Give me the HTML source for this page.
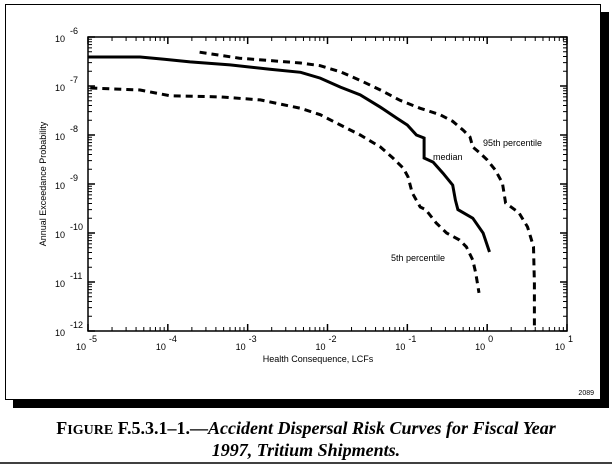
<!DOCTYPE html>
<html><head><meta charset="utf-8"><style>
html,body{margin:0;padding:0;background:#fff;}
svg{display:block;font-family:"Liberation Sans",Arial,sans-serif;}
</style></head><body>
<svg id="chart" width="612" height="465" viewBox="0 0 612 465" xmlns="http://www.w3.org/2000/svg">
<rect x="13" y="12" width="596" height="396" fill="#000"/>
<rect x="5.5" y="4.5" width="595" height="395" fill="#fff" stroke="#000" stroke-width="1"/>
<g id="axes"></g>
<g id="series"></g>
<text x="483" y="146" font-size="9">95th percentile</text>
<text x="433" y="160" font-size="9">median</text>
<text x="391" y="261" font-size="9">5th percentile</text>
<text x="318" y="362" font-size="9" text-anchor="middle">Health Consequence, LCFs</text>
<text transform="translate(46,184) rotate(-90)" font-size="9" text-anchor="middle">Annual Exceedance Probability</text>
<text x="594" y="395" font-size="7" text-anchor="end">2089</text>
<text x="306" y="434" font-size="18" font-weight="bold" text-anchor="middle" font-family="Liberation Serif, serif"><tspan>F</tspan><tspan font-size="14">IGURE</tspan><tspan> F.5.3.1–1.—</tspan><tspan font-style="italic">Accident Dispersal Risk Curves for Fiscal Year</tspan></text>
<text x="306" y="456" font-size="18" font-weight="bold" font-style="italic" text-anchor="middle" font-family="Liberation Serif, serif">1997, Tritium Shipments.</text>
<line x1="0" y1="463" x2="612" y2="463" stroke="#000" stroke-width="1.5"/>
</svg>
<script>
const xDecades = [-5,-4,-3,-2,-1,0,1];
const yDecades = [-6,-7,-8,-9,-10,-11,-12];
const medianX = [1e-5,4.5e-5,9e-5,1.9e-4,6e-4,1.9e-3,4.6e-3,8.1e-3,0.0145,0.0257,0.046,0.074,0.10,0.13,0.162,0.162,0.21,0.28,0.37,0.40,0.43,0.66,0.89,1.07];
const medianY = [3.9e-7,3.9e-7,3.5e-7,3.1e-7,2.7e-7,2.2e-7,1.9e-7,1.45e-7,9.5e-8,6.6e-8,3.7e-8,2.2e-8,1.6e-8,1.0e-8,8.7e-9,3.4e-9,2.8e-9,1.66e-9,9.5e-10,4.7e-10,3.0e-10,2.0e-10,1.0e-10,4.1e-11];
const p95X = [2.5e-4,7.9e-4,4.6e-3,8.1e-3,0.0145,0.0257,0.046,0.081,0.145,0.257,0.37,0.50,0.61,0.66,0.81,1.0,1.26,1.55,1.7,2.5,3.2,3.5,3.8,3.9,3.9];
const p95Y = [4.9e-7,3.7e-7,2.95e-7,2.6e-7,1.95e-7,1.3e-7,8.3e-8,5.1e-8,3.5e-8,2.6e-8,1.9e-8,1.26e-8,9.1e-9,5.7e-9,4.3e-9,3.1e-9,1.94e-9,1.05e-9,4.1e-10,2.6e-10,1.33e-10,8.3e-11,5.2e-11,9.5e-12,1e-12];
const p5X = [1.07e-5,4.5e-5,1.07e-4,4.5e-4,1.44e-3,4.6e-3,8.1e-3,0.0145,0.0257,0.046,0.066,0.089,0.102,0.115,0.145,0.17,0.23,0.31,0.45,0.55,0.66,0.72,0.79];
const p5Y = [9.1e-8,8.3e-8,6.3e-8,6.0e-8,5.2e-8,3.5e-8,2.6e-8,1.6e-8,1.0e-8,5.7e-9,3.4e-9,2.1e-9,1.4e-9,6.6e-10,3.4e-10,3.0e-10,1.6e-10,1.0e-10,7.2e-11,5.2e-11,2.8e-11,1.5e-11,6e-12];

const L=88,R=567,T=37,B=331;
const xMin=-5,xMax=1,yMin=-12,yMax=-6;
function xs(v){return L+(Math.log10(v)-xMin)/(xMax-xMin)*(R-L);}
function ys(v){return B-(Math.log10(v)-yMin)/(yMax-yMin)*(B-T);}
const NS="http://www.w3.org/2000/svg";
function mk(tag,attrs,parent){const e=document.createElementNS(NS,tag);for(const k in attrs)e.setAttribute(k,attrs[k]);parent.appendChild(e);return e;}
const axes=document.getElementById('axes');
const box=mk('rect',{x:L,y:T,width:R-L,height:B-T,fill:'none',stroke:'#000','stroke-width':1.5},axes);


// x ticks
xDecades.forEach((d,i)=>{
  const x=xs(Math.pow(10,d));
  if(i<xDecades.length-1){
    for(let m=2;m<10;m++){const xm=xs(m*Math.pow(10,d));
      const t1=mk('line',{x1:xm,y1:B,x2:xm,y2:B-4,stroke:'#000','stroke-width':1},axes);
      
      
      const t2=mk('line',{x1:xm,y1:T,x2:xm,y2:T+4,stroke:'#000','stroke-width':1},axes);
      
      }
  }
  const tm=mk('line',{x1:x,y1:B,x2:x,y2:B-7,stroke:'#000','stroke-width':1.5},axes);
  
  
  const tt=mk('line',{x1:x,y1:T,x2:x,y2:T+7,stroke:'#000','stroke-width':1.5},axes);
  
  
  const lab=mk('text',{x:x-12,y:B+19,'font-size':9},axes);
  
  
  lab.textContent='10';
  const ex=mk('text',{x:x+1,y:B+11,'font-size':9},axes);
  
  
  ex.textContent=String(d);
});
// y ticks
yDecades.forEach((d,i)=>{
  const y=ys(Math.pow(10,d));
  if(d>yMin){
    for(let m=2;m<10;m++){const ym=ys(m*Math.pow(10,d-1));
      const t1=mk('line',{x1:L,y1:ym,x2:L+4,y2:ym,stroke:'#000','stroke-width':1},axes);
      
      
      const t2=mk('line',{x1:R,y1:ym,x2:R-4,y2:ym,stroke:'#000','stroke-width':1},axes);
      
      }
  }
  const tm=mk('line',{x1:L,y1:y,x2:L+7,y2:y,stroke:'#000','stroke-width':1.5},axes);
  
  
  const tr=mk('line',{x1:R,y1:y,x2:R-7,y2:y,stroke:'#000','stroke-width':1.5},axes);
  
  
  const lab=mk('text',{x:55,y:y+5,'font-size':9},axes);
  
  
  lab.textContent='10';
  const ex=mk('text',{x:70,y:y-3,'font-size':9},axes);
  
  
  ex.textContent=String(d);
});
const series=document.getElementById('series');
function path(X,Y){return X.map((v,i)=>(i?'L':'M')+xs(v).toFixed(1)+','+ys(Y[i]).toFixed(1)).join(' ');}
const pm=mk('path',{d:path(medianX,medianY),fill:'none',stroke:'#000','stroke-width':3},series);


const p95=mk('path',{d:path(p95X,p95Y),fill:'none',stroke:'#000','stroke-width':3,'stroke-dasharray':'7,5'},series);


const p5=mk('path',{d:path(p5X,p5Y),fill:'none',stroke:'#000','stroke-width':3,'stroke-dasharray':'7,5'},series);


</script>
</body></html>
